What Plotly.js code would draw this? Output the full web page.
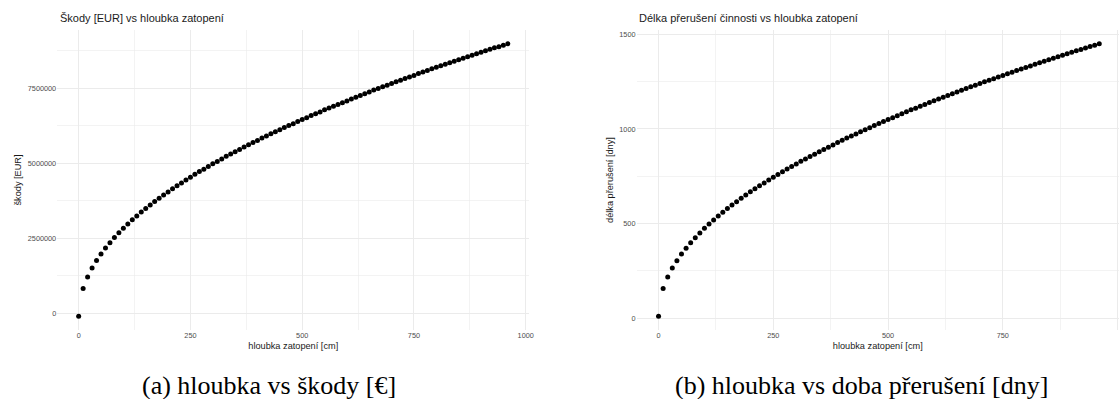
<!DOCTYPE html>
<html>
<head>
<meta charset="utf-8">
<script src="https://cdn.plot.ly/plotly-3.0.1.min.js"></script>
<style>
  html, body { margin: 0; padding: 0; background: #ffffff; }
  #chart { width: 1119px; height: 399px; }
</style>
</head>
<body>
<div id="chart"></div>
<script>
// Flood depth [cm]
const depth = [0,10,20,30,40,50,60,70,80,90,100,110,120,130,140,150,160,170,180,190,200,210,220,230,240,250,260,270,280,290,300,310,320,330,340,350,360,370,380,390,400,410,420,430,440,450,460,470,480,490,500,510,520,530,540,550,560,570,580,590,600,610,620,630,640,650,660,670,680,690,700,710,720,730,740,750,760,770,780,790,800,810,820,830,840,850,860,870,880,890,900,910,920,930,940,950,960];

// Damages [EUR]
const damages = [-110000,820000,1200000,1500000,1750000,1970000,2170000,2350000,2520000,2680000,2830000,2970000,3110000,3240000,3370000,3490000,3610000,3720000,3830000,3940000,4040000,4150000,4250000,4340000,4440000,4530000,4630000,4720000,4800000,4890000,4980000,5060000,5140000,5230000,5310000,5380000,5460000,5540000,5620000,5690000,5760000,5840000,5910000,5980000,6050000,6120000,6190000,6260000,6320000,6390000,6460000,6520000,6590000,6650000,6710000,6780000,6840000,6900000,6960000,7020000,7080000,7140000,7200000,7260000,7320000,7380000,7440000,7490000,7550000,7600000,7660000,7720000,7770000,7830000,7880000,7930000,7990000,8040000,8090000,8150000,8200000,8250000,8300000,8350000,8400000,8450000,8500000,8550000,8600000,8650000,8700000,8750000,8800000,8850000,8890000,8940000,8990000];

// Business interruption duration [days]
const duration = [10,157,218,265,304,339,370,399,426,451,475,498,519,540,560,580,598,616,634,651,668,684,700,715,730,745,760,774,788,802,815,829,842,855,867,880,892,904,916,928,940,952,963,974,985,996,1007,1018,1029,1039,1050,1060,1070,1081,1091,1101,1110,1120,1130,1140,1149,1158,1168,1177,1186,1196,1205,1214,1223,1231,1240,1249,1258,1266,1275,1283,1292,1300,1309,1317,1325,1333,1342,1350,1358,1366,1374,1382,1389,1397,1405,1413,1420,1428,1436,1443,1451];

// Texts
const titleA = "Škody [EUR] vs hloubka zatopení";
const titleB = "Délka přerušení činnosti vs hloubka zatopení";
const xTitle = "hloubka zatopení [cm]";
const yTitleA = "škody [EUR]";
const yTitleB = "délka přerušení [dny]";
const captionA = "(a) hloubka vs škody [€]";
const captionB = "(b) hloubka vs doba přerušení [dny]";
const xTicks = [0, 250, 500, 750, 1000];
const yTicksA = [0, 2500000, 5000000, 7500000];
const yTicksB = [0, 500, 1000, 1500];

const W = 1119, H = 399;
const px = v => v / W;
const py = v => (H - v) / H;

const SANS = "Liberation Sans, Arial, sans-serif";
const tickFont = {family: SANS, size: 7.3, color: "#4d4d4d"};
const axTitleFont = {family: SANS, size: 9.2, color: "#1a1a1a"};
const GRID = "#ebebeb";

function xAxis(domain, range, anchor) {
  return {
    domain: domain, range: range, anchor: anchor, tickvals: xTicks, ticktext: xTicks.map(String),
    showgrid: true, gridcolor: GRID, gridwidth: 1, zeroline: false, showline: false,
    ticks: "", tickfont: tickFont,
    minor: {tickvals: [125, 375, 625, 875], showgrid: true, gridcolor: GRID, gridwidth: 0.6, ticks: ""},
    title: {text: xTitle, font: axTitleFont, standoff: 3},
    automargin: false, fixedrange: true
  };
}
function yAxis(domain, range, anchor, ticks, minorTicks, title) {
  return {
    domain: domain, range: range, anchor: anchor, tickvals: ticks, ticktext: ticks.map(String),
    showgrid: true, gridcolor: GRID, gridwidth: 1, zeroline: false, showline: false,
    ticks: "", tickfont: tickFont,
    minor: {tickvals: minorTicks, showgrid: true, gridcolor: GRID, gridwidth: 0.6, ticks: ""},
    title: {text: title, font: axTitleFont, standoff: 4},
    automargin: false, fixedrange: true
  };
}

const yDom = [py(330), py(30)];

const data = [
  {x: depth, y: damages, type: "scatter", mode: "markers", xaxis: "x", yaxis: "y",
   marker: {color: "#000000", size: 5}, hoverinfo: "x+y"},
  {x: depth, y: duration, type: "scatter", mode: "markers", xaxis: "x2", yaxis: "y2",
   marker: {color: "#000000", size: 5}, hoverinfo: "x+y"}
];

const layout = {
  width: W, height: H,
  margin: {l: 0, r: 0, t: 0, b: 0, pad: 0},
  paper_bgcolor: "#ffffff", plot_bgcolor: "#ffffff",
  showlegend: false,
  xaxis: xAxis([px(57.2), px(529.3)], [-48, 1008], "y"),
  yaxis: yAxis(yDom, [-565000, 9445000], "x", yTicksA, [1250000, 3750000, 6250000, 8750000], yTitleA),
  xaxis2: xAxis([px(636.5), 1], [-48, 1003], "y2"),
  yaxis2: yAxis(yDom, [-62, 1523], "x2", yTicksB, [250, 750, 1250], yTitleB),
  annotations: [
    {text: titleA, xref: "paper", yref: "paper", x: px(57.5), y: py(18.5), xanchor: "left", yanchor: "middle",
     showarrow: false, font: {family: SANS, size: 11, color: "#1a1a1a"}},
    {text: titleB, xref: "paper", yref: "paper", x: px(637), y: py(18.5), xanchor: "left", yanchor: "middle",
     showarrow: false, font: {family: SANS, size: 11, color: "#1a1a1a"}},
    {text: captionA, xref: "paper", yref: "paper", x: px(269), y: py(385), xanchor: "center", yanchor: "middle",
     showarrow: false, font: {family: "Liberation Serif, Times New Roman, serif", size: 26, color: "#000000"}},
    {text: captionB, xref: "paper", yref: "paper", x: px(861), y: py(385), xanchor: "center", yanchor: "middle",
     showarrow: false, font: {family: "Liberation Serif, Times New Roman, serif", size: 26, color: "#000000"}}
  ]
};

Plotly.newPlot("chart", data, layout, {displayModeBar: false, staticPlot: true});
</script>
</body>
</html>
